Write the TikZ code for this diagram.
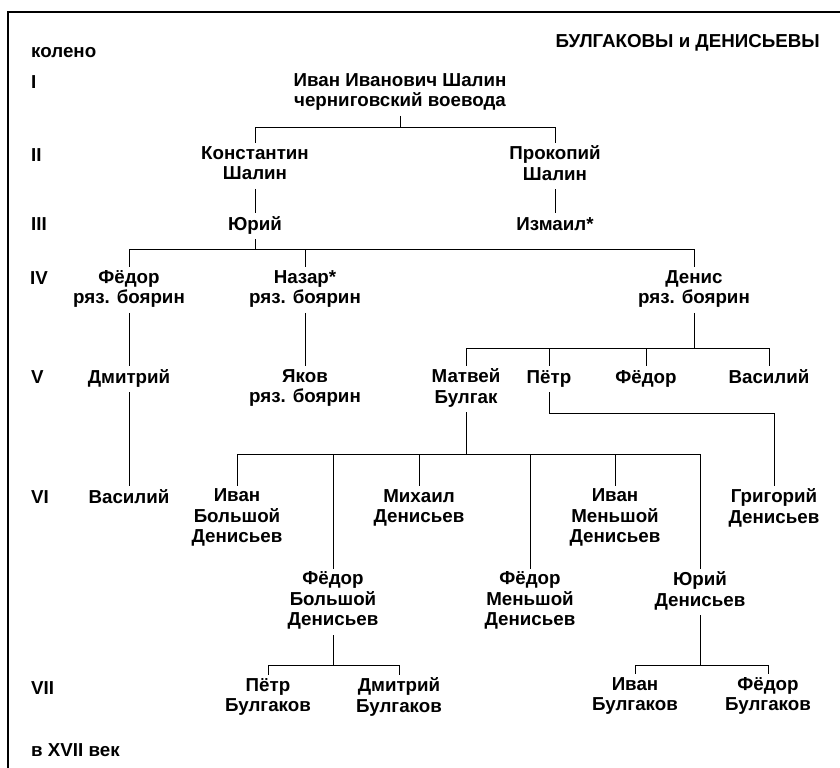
\documentclass[tikz,border=0pt]{standalone}
\usepackage{fontspec}
\setmainfont{Liberation Sans}
\usetikzlibrary{positioning,calc}
\tikzset{
  person/.style={align=center,font=\bfseries\fontsize{16}{17.5}\selectfont,inner sep=2.5pt,
    execute at begin node=\strut,execute at end node=\strut},
  gen/.style={anchor=west,font=\bfseries\fontsize{16}{17.5}\selectfont,inner sep=0pt},
  link/.style={line width=0.7pt},
  frameline/.style={line width=1.3pt},
}

\begin{document}
\begin{tikzpicture}[x=0.3mm,y=-0.3mm]
\useasboundingbox (0,0) rectangle (840,768);
\draw[frameline] (8,768) -- (8,12) -- (840,12);
\node[gen] (koleno) at (31,53) {колено};
\node[gen,anchor=east] (title) at (820,43) {БУЛГАКОВЫ и ДЕНИСЬЕВЫ};
\node[gen] (g1) at (31,82) {I};
\node[gen] (g2) at (31,155) {II};
\node[gen] (g3) at (31,224) {III};
\node[gen] (g4) at (30,278) {IV};
\node[gen] (g5) at (31,377) {V};
\node[gen] (g6) at (31,497) {VI};
\node[gen] (g7) at (31,688) {VII};
\node[gen] (vek) at (31,750) {в XVII век};

\node[person] (shalin) at (400,93) {Иван Иванович Шалин\\черниговский воевода};
\node[person] (konst) at (255,166) {Константин\\Шалин};
\node[person] (prok) at (555,166) {Прокопий\\Шалин};
\node[person] (yuri) at (255,226) {Юрий};
\node[person] (izmail) at (555,226) {Измаил*};
\node[person] (fedorr) at (129,290) {Фёдор\\ряз. боярин};
\node[person] (nazar) at (305,290) {Назар*\\ряз. боярин};
\node[person] (denis) at (694,290) {Денис\\ряз. боярин};
\node[person] (dmitry) at (129,379) {Дмитрий};
\node[person] (yakov) at (305,389) {Яков\\ряз. боярин};
\node[person] (matvey) at (466,389) {Матвей\\Булгак};
\node[person] (petr) at (549,379) {Пётр};
\node[person] (fedorp) at (646,379) {Фёдор};
\node[person] (vasilyd) at (769,379) {Василий};
\node[person] (vasilyf) at (129,499) {Василий};
\node[person] (ivanb) at (237,519) {Иван\\Большой\\Денисьев};
\node[person] (mikhail) at (419,509) {Михаил\\Денисьев};
\node[person] (ivanm) at (615,519) {Иван\\Меньшой\\Денисьев};
\node[person] (grigory) at (774,509) {Григорий\\Денисьев};
\node[person] (fedorb) at (333,602) {Фёдор\\Большой\\Денисьев};
\node[person] (fedorm) at (530,602) {Фёдор\\Меньшой\\Денисьев};
\node[person] (yurid) at (700,592) {Юрий\\Денисьев};
\node[person] (petrb) at (268,698) {Пётр\\Булгаков};
\node[person] (dmitryb) at (399,698) {Дмитрий\\Булгаков};
\node[person] (ivanbu) at (635,697) {Иван\\Булгаков};
\node[person] (fedorbu) at (768,697) {Фёдор\\Булгаков};

\coordinate (bus1) at (0,127);
\coordinate (bus3) at (0,249);
\coordinate (bus4) at (0,348);
\coordinate (busp) at (0,413);
\coordinate (bus5) at (0,454);
\coordinate (bus6) at (0,665);

\draw[link] (shalin.south) -- (shalin.south |- bus1) -| (konst.north);
\draw[link] (shalin.south |- bus1) -| (prok.north);
\draw[link] (konst) -- (yuri);
\draw[link] (prok) -- (izmail);
\draw[link] (yuri.south) -- (yuri.south |- bus3) -| (fedorr.north);
\draw[link] (yuri.south |- bus3) -| (nazar.north);
\draw[link] (yuri.south |- bus3) -| (denis.north);
\draw[link] (fedorr) -- (dmitry);
\draw[link] (dmitry) -- (vasilyf);
\draw[link] (nazar) -- (yakov);
\draw[link] (denis.south) -- (denis.south |- bus4) -| (matvey.north);
\draw[link] (denis.south |- bus4) -| (petr.north);
\draw[link] (denis.south |- bus4) -| (fedorp.north);
\draw[link] (denis.south |- bus4) -| (vasilyd.north);
\draw[link] (petr.south) -- (petr.south |- busp) -| (grigory.north);
\draw[link] (matvey.south) -- (matvey.south |- bus5) -| (ivanb.north);
\draw[link] (matvey.south |- bus5) -| (fedorb.north);
\draw[link] (matvey.south |- bus5) -| (mikhail.north);
\draw[link] (matvey.south |- bus5) -| (fedorm.north);
\draw[link] (matvey.south |- bus5) -| (ivanm.north);
\draw[link] (matvey.south |- bus5) -| (yurid.north);
\draw[link] (fedorb.south) -- (fedorb.south |- bus6) -| (petrb.north);
\draw[link] (fedorb.south |- bus6) -| (dmitryb.north);
\draw[link] (yurid.south) -- (yurid.south |- bus6) -| (ivanbu.north);
\draw[link] (yurid.south |- bus6) -| (fedorbu.north);
\end{tikzpicture}
\end{document}
